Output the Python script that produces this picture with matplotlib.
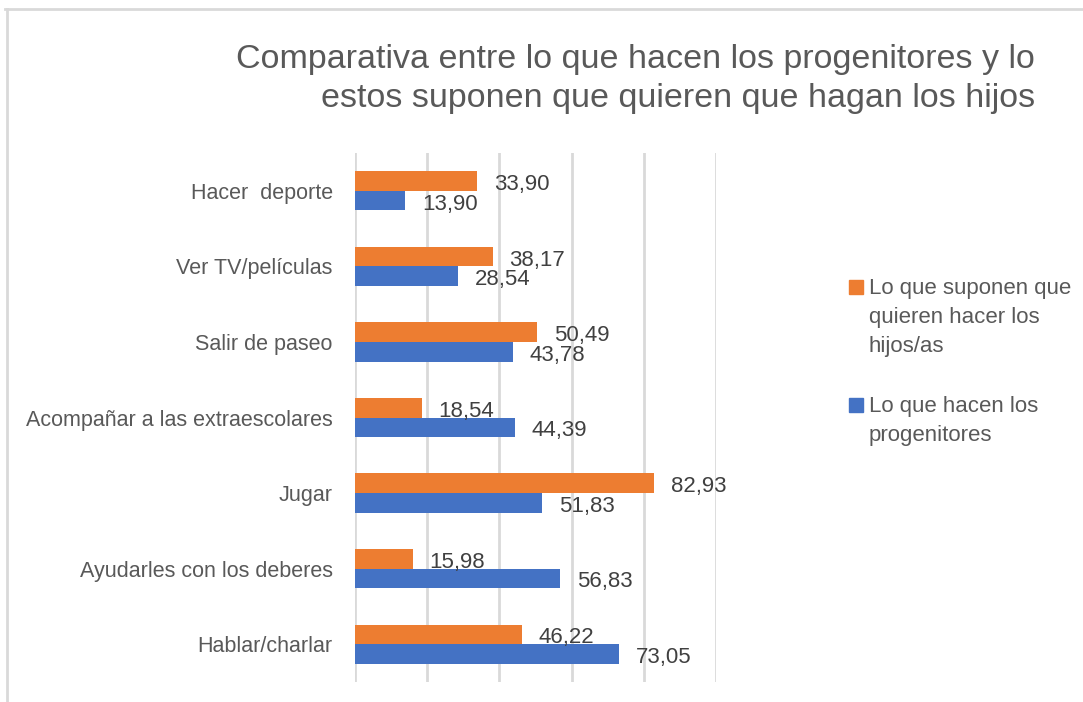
import numpy as np
import matplotlib.pyplot as plt
from matplotlib.lines import Line2D
from matplotlib.patches import Rectangle

categorias = ['Hacer  deporte', 'Ver TV/películas', 'Salir de paseo',
              'Acompañar a las extraescolares', 'Jugar',
              'Ayudarles con los deberes', 'Hablar/charlar']
suponen_hijos = [33.90, 38.17, 50.49, 18.54, 82.93, 15.98, 46.22]
hacen_progenitores = [13.90, 28.54, 43.78, 44.39, 51.83, 56.83, 73.05]
leyenda = ['Lo que suponen que\nquieren hacer los\nhijos/as',
           'Lo que hacen los\nprogenitores']
titulo = ('Comparativa entre lo que hacen los progenitores y lo\n'
          'estos suponen que quieren que hagan los hijos')

naranja = '#ED7D31'
azul = '#4472C4'
gris_txt = '#595959'
gris_lbl = '#404040'
gris_linea = '#D9D9D9'

plt.rcParams['font.family'] = ['Liberation Sans', 'DejaVu Sans']

W, H = 1083, 702
fig = plt.figure(figsize=(W / 100, H / 100), dpi=100)
ax = fig.add_axes([355 / W, 1 - 682 / H, (716 - 355) / W, (682 - 153) / H])

y = np.arange(len(categorias))
alto = 0.26
b1 = ax.barh(y - alto / 2, suponen_hijos, height=alto, color=naranja, zorder=2)
b2 = ax.barh(y + alto / 2, hacen_progenitores, height=alto, color=azul, zorder=2)

fmt = lambda v: f'{v:.2f}'.replace('.', ',')
for barras, vals in ((b1, suponen_hijos), (b2, hacen_progenitores)):
    etiquetas = ax.bar_label(barras, labels=[fmt(v) for v in vals], padding=12,
                             fontsize=16, color=gris_lbl)
    for t in etiquetas:
        t.xyann = (t.xyann[0], -2.5)

ax.set_xlim(0, 100)
ax.set_ylim(len(categorias) - 0.5, -0.5)
ax.set_xticks(np.arange(0, 101, 20))
ax.set_xticklabels([])
ax.set_yticks(y)
ax.set_yticklabels(categorias, fontsize=15.5, color=gris_txt)
ax.tick_params(axis='both', length=0)
ax.tick_params(axis='y', pad=16)
ax.grid(axis='x', color=gris_linea, linewidth=2, zorder=0)
for s in ax.spines.values():
    s.set_visible(False)

fig.text(1035 / W, 1 - 79 / H, titulo, ha='right', va='center',
         fontsize=24.5, color=gris_txt, linespacing=1.3)

# leyenda a mano, cuadrado alineado con la primera linea
for (txt, col, yc) in ((leyenda[0], naranja, 287), (leyenda[1], azul, 405)):
    fig.add_artist(Rectangle((849 / W, 1 - (yc + 7) / H), 14 / W, 14 / H,
                             transform=fig.transFigure, color=col))
    fig.text(869 / W, 1 - (yc - 9) / H, txt, ha='left', va='top',
             fontsize=16, color=gris_txt, linespacing=1.5)

# marco del area del grafico
fig.add_artist(Line2D([5 / W, 1], [1 - 9 / H, 1 - 9 / H], color=gris_linea, lw=2))
fig.add_artist(Line2D([7 / W, 7 / W], [0, 1 - 9 / H], color=gris_linea, lw=2))

fig.savefig('out.png', dpi=100)
